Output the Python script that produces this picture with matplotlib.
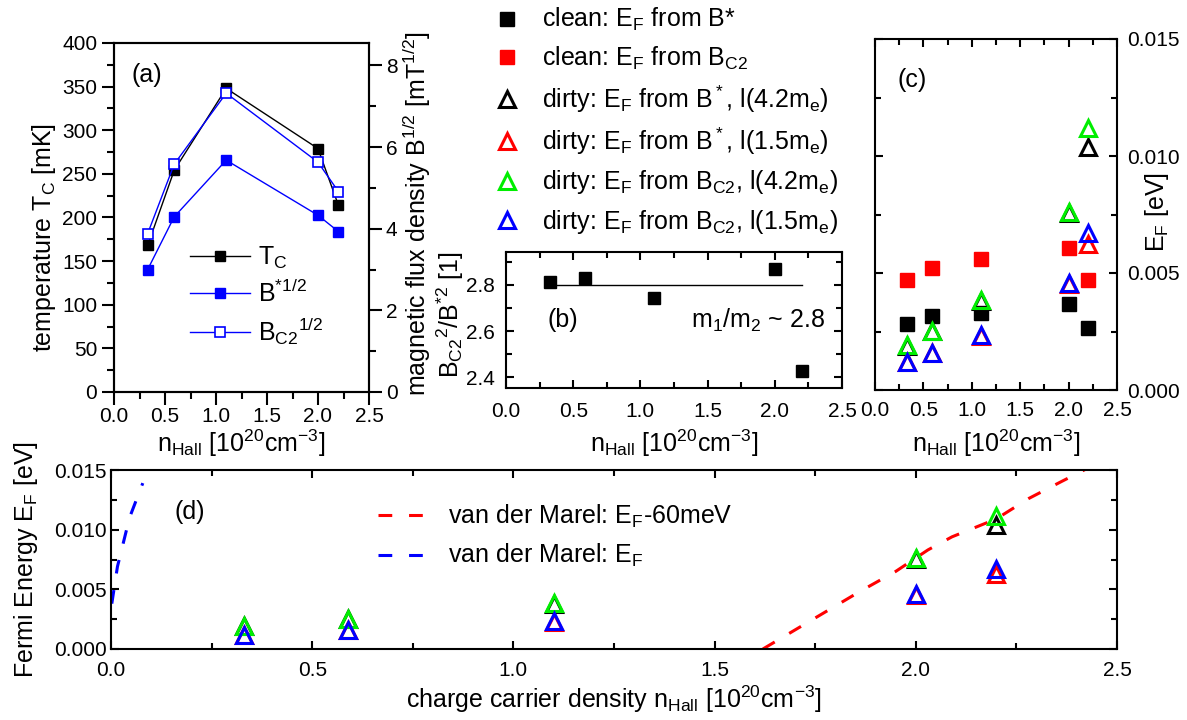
import matplotlib
matplotlib.use("Agg")
import matplotlib.pyplot as plt
from matplotlib.ticker import MultipleLocator, FormatStrFormatter

# ---- data -----------------------------------------------------------------
# Hall carrier density of the samples [10^20 cm^-3]
n_hall = [0.33, 0.59, 1.10, 2.00, 2.20]

# (a) critical temperature and square roots of the characteristic fields
tc_mK = [168, 254, 348, 279, 214]
b_star_sqrt = [3.00, 4.29, 5.68, 4.33, 3.93]
b_c2_sqrt = [3.88, 5.58, 7.32, 5.63, 4.91]

# (b) field ratio and the resulting mass ratio
ratio_bc2_bstar = [2.814, 2.829, 2.742, 2.868, 2.426]
mass_ratio = 2.8

# (c), (d) Fermi energies [eV]
ef_clean_bstar = [0.00284, 0.00315, 0.00330, 0.00369, 0.00263]
ef_clean_bc2 = [0.00472, 0.00521, 0.00561, 0.00608, 0.00472]
ef_dirty_bstar_42 = [0.00190, 0.00251, 0.00380, 0.00755, 0.01037]
ef_dirty_bstar_15 = [0.00118, 0.00156, 0.00230, 0.00455, 0.00625]
ef_dirty_bc2_42 = [0.00192, 0.00253, 0.00386, 0.00760, 0.01118]
ef_dirty_bc2_15 = [0.00118, 0.00156, 0.00234, 0.00459, 0.00673]

# van der Marel model curves
vdm_n = [0.002, 0.016, 0.046, 0.079]
vdm_ef = [0.0038, 0.0069, 0.0110, 0.0139]
vdm60_n = [1.62, 1.73, 1.86, 1.95, 2.03, 2.09, 2.20, 2.28, 2.36, 2.43]
vdm60_ef = [0.0000, 0.0022, 0.0048, 0.0065, 0.0083, 0.0094, 0.0109, 0.0126, 0.0140, 0.0152]

# ---- style ----------------------------------------------------------------
plt.rcParams.update({
    "font.family": ["Liberation Sans", "DejaVu Sans"],
    "mathtext.fontset": "custom",
    "mathtext.rm": "Liberation Sans",
    "mathtext.it": "Liberation Sans:italic",
    "mathtext.bf": "Liberation Sans:bold",
    "mathtext.default": "regular",
    "axes.linewidth": 1.5,
})

TICK_FS = 15
LABEL_FS = 18
BLUE = "#0000ff"
RED = "#ff0000"
GREEN = "#00ee00"

W, H = 1187, 720
fig = plt.figure(figsize=(W / 100, H / 100), dpi=100)


def box(left, top, right, bottom):
    return [left / W, 1 - bottom / H, (right - left) / W, (bottom - top) / H]


def inside_ticks(ax):
    ax.tick_params(which="both", direction="in", top=True, right=True,
                   width=1.5, labelsize=TICK_FS)
    ax.tick_params(which="major", length=6)
    ax.tick_params(which="minor", length=4)


def center_label(label):
    label.set_ha("center")
    label.set_va("center")
    label.set_fontsize(LABEL_FS)


nlabel = r"n$_\mathrm{Hall}$ [10$^{20}$cm$^{-3}$]"

# ---- (a) -------------------------------------------------------------------
ax_a = fig.add_axes(box(114, 43, 369, 392))
ax_a2 = ax_a.twinx()
l_tc, = ax_a.plot(n_hall, tc_mK, color="black", lw=1, marker="s", ms=7,
                  mfc="black", mec="black", label=r"T$_\mathrm{C}$")
l_bs, = ax_a2.plot(n_hall, b_star_sqrt, color=BLUE, lw=1, marker="s", ms=7,
                   mfc=BLUE, mec=BLUE, label=r"B$^{*1/2}$")
l_bc, = ax_a2.plot(n_hall, b_c2_sqrt, color=BLUE, lw=1, marker="s", ms=7,
                   mfc="white", mec=BLUE, mew=1.2,
                   label=r"B$_\mathrm{C2}$$^{1/2}$")
ax_a.set_xlim(0, 2.5)
ax_a.set_ylim(0, 400)
ax_a2.set_ylim(0, 8.55)
ax_a.xaxis.set_major_locator(MultipleLocator(0.5))
ax_a.xaxis.set_minor_locator(MultipleLocator(0.25))
ax_a.xaxis.set_major_formatter(FormatStrFormatter("%.1f"))
ax_a.yaxis.set_major_locator(MultipleLocator(50))
ax_a.yaxis.set_minor_locator(MultipleLocator(25))
ax_a2.yaxis.set_major_locator(MultipleLocator(2))
ax_a2.yaxis.set_minor_locator(MultipleLocator(1))
ax_a.tick_params(which="both", direction="out", top=False, right=False,
                 width=1.5, labelsize=TICK_FS, pad=3)
ax_a.tick_params(axis="x", pad=2)
ax_a.tick_params(which="major", length=9)
ax_a.tick_params(which="minor", length=5)
ax_a2.tick_params(which="both", direction="out", width=1.5,
                  labelsize=TICK_FS, pad=3)
ax_a2.tick_params(which="major", length=9)
ax_a2.tick_params(which="minor", length=5)
ax_a.set_xlabel(nlabel)
ax_a.set_ylabel(r"temperature T$_\mathrm{C}$ [mK]")
ax_a2.set_ylabel(r"magnetic flux density B$^{1/2}$ [mT$^{1/2}$]", rotation=90)
for lab in (ax_a.xaxis.label, ax_a.yaxis.label, ax_a2.yaxis.label):
    center_label(lab)
ax_a.xaxis.set_label_coords(0.5, (392 - 443) / 349)
ax_a.yaxis.set_label_coords(-0.2745, 0.444)
ax_a2.yaxis.set_label_coords(1.188, 0.51)
ax_a.text(0.129, 0.908, "(a)", transform=ax_a.transAxes, fontsize=LABEL_FS,
          ha="center", va="center")
ax_a2.legend([l_tc, l_bs, l_bc], [l.get_label() for l in (l_tc, l_bs, l_bc)],
             loc="center left", bbox_to_anchor=((190 - 114) / 255, (392 - 296) / 349),
             frameon=False, fontsize=LABEL_FS, handlelength=2.4,
             handletextpad=0.3, borderpad=0, borderaxespad=0,
             labelspacing=0.35, numpoints=1)

# ---- (b) -------------------------------------------------------------------
ax_b = fig.add_axes(box(506, 252, 842, 388))
ax_b.plot(n_hall, ratio_bc2_bstar, ls="none", marker="s", ms=8,
          color="black")
ax_b.plot([n_hall[0], n_hall[-1]], [mass_ratio, mass_ratio], color="black",
          lw=1)
ax_b.set_xlim(0, 2.5)
ax_b.set_ylim(2.353, 2.943)
ax_b.xaxis.set_major_locator(MultipleLocator(0.5))
ax_b.xaxis.set_minor_locator(MultipleLocator(0.25))
ax_b.xaxis.set_major_formatter(FormatStrFormatter("%.1f"))
ax_b.yaxis.set_major_locator(MultipleLocator(0.2))
ax_b.yaxis.set_minor_locator(MultipleLocator(0.1))
ax_b.yaxis.set_major_formatter(FormatStrFormatter("%.1f"))
inside_ticks(ax_b)
ax_b.tick_params(axis="x", pad=10)
ax_b.tick_params(axis="y", pad=8)
ax_b.set_xlabel(nlabel)
ax_b.set_ylabel(r"B$_\mathrm{C2}$$^2$/B$^{*2}$ [1]")
center_label(ax_b.xaxis.label)
center_label(ax_b.yaxis.label)
ax_b.xaxis.set_label_coords(0.5, (388 - 443) / 136)
ax_b.yaxis.set_label_coords(-0.1667, 0.537)
ax_b.text(0.17, 0.5, "(b)", transform=ax_b.transAxes, fontsize=LABEL_FS,
          ha="center", va="center")
ax_b.text(0.949, 0.5, r"m$_1$/m$_2$ ~ 2.8", transform=ax_b.transAxes,
          fontsize=LABEL_FS, ha="right", va="center")

# ---- (c) -------------------------------------------------------------------
series = [
    (ef_clean_bstar, "s", "black", True, r"clean: E$_\mathrm{F}$ from B*"),
    (ef_clean_bc2, "s", RED, True, r"clean: E$_\mathrm{F}$ from B$_\mathrm{C2}$"),
    (ef_dirty_bstar_42, "^", "black", False,
     r"dirty: E$_\mathrm{F}$ from B$^*$, l(4.2m$_\mathrm{e}$)"),
    (ef_dirty_bstar_15, "^", RED, False,
     r"dirty: E$_\mathrm{F}$ from B$^*$, l(1.5m$_\mathrm{e}$)"),
    (ef_dirty_bc2_42, "^", GREEN, False,
     r"dirty: E$_\mathrm{F}$ from B$_\mathrm{C2}$, l(4.2m$_\mathrm{e}$)"),
    (ef_dirty_bc2_15, "^", BLUE, False,
     r"dirty: E$_\mathrm{F}$ from B$_\mathrm{C2}$, l(1.5m$_\mathrm{e}$)"),
]

ax_c = fig.add_axes(box(875, 39, 1117, 390))
handles_c = []
for vals, mk, col, filled, lab in series:
    if filled:
        h, = ax_c.plot(n_hall, vals, ls="none", marker=mk, ms=10, mfc=col,
                       mec=col, label=lab)
    else:
        h, = ax_c.plot(n_hall, vals, ls="none", marker=mk, ms=12, mfc="none",
                       mec=col, mew=2.2, label=lab)
    handles_c.append(h)
ax_c.set_xlim(0, 2.5)
ax_c.set_ylim(0, 0.015)
ax_c.xaxis.set_major_locator(MultipleLocator(0.5))
ax_c.xaxis.set_minor_locator(MultipleLocator(0.25))
ax_c.xaxis.set_major_formatter(FormatStrFormatter("%.1f"))
ax_c.yaxis.set_major_locator(MultipleLocator(0.005))
ax_c.yaxis.set_minor_locator(MultipleLocator(0.0025))
ax_c.yaxis.set_major_formatter(FormatStrFormatter("%.3f"))
inside_ticks(ax_c)
ax_c.tick_params(labelleft=False, labelright=True)
ax_c.tick_params(axis="x", pad=8)
ax_c.tick_params(axis="y", pad=7)
ax_c.yaxis.set_label_position("right")
ax_c.set_xlabel(nlabel)
ax_c.set_ylabel(r"E$_\mathrm{F}$ [eV]")
center_label(ax_c.xaxis.label)
center_label(ax_c.yaxis.label)
ax_c.xaxis.set_label_coords(0.5, (390 - 443) / 351)
ax_c.yaxis.set_label_coords(1.165, 0.507)
ax_c.text(0.152, 0.883, "(c)", transform=ax_c.transAxes, fontsize=LABEL_FS,
          ha="center", va="center")

fig.legend(handles_c, [h.get_label() for h in handles_c], loc="center left",
           bbox_to_anchor=(488 / W, 1 - 121 / H), frameon=False,
           fontsize=LABEL_FS, handlelength=1.5, handletextpad=0.68,
           borderpad=0, borderaxespad=0, labelspacing=0.45, numpoints=1)

# ---- (d) -------------------------------------------------------------------
ax_d = fig.add_axes(box(111, 470, 1117, 649))
l_v60, = ax_d.plot(vdm60_n, vdm60_ef, color=RED, lw=2.2, dashes=(4.5, 5.5),
                   label=r"van der Marel: E$_\mathrm{F}$-60meV")
l_v, = ax_d.plot(vdm_n, vdm_ef, color=BLUE, lw=2.2, dashes=(4.5, 5.5),
                 label=r"van der Marel: E$_\mathrm{F}$")
for vals, mk, col, filled, lab in series[2:]:
    ax_d.plot(n_hall, vals, ls="none", marker=mk, ms=12, mfc="none",
              mec=col, mew=2.2)
ax_d.set_xlim(0, 2.5)
ax_d.set_ylim(0, 0.015)
ax_d.xaxis.set_major_locator(MultipleLocator(0.5))
ax_d.xaxis.set_minor_locator(MultipleLocator(0.25))
ax_d.xaxis.set_major_formatter(FormatStrFormatter("%.1f"))
ax_d.yaxis.set_major_locator(MultipleLocator(0.005))
ax_d.yaxis.set_minor_locator(MultipleLocator(0.0025))
ax_d.yaxis.set_major_formatter(FormatStrFormatter("%.3f"))
inside_ticks(ax_d)
ax_d.tick_params(axis="x", pad=9)
ax_d.tick_params(axis="y", pad=3)
ax_d.set_xlabel(r"charge carrier density n$_\mathrm{Hall}$ [10$^{20}$cm$^{-3}$]")
ax_d.set_ylabel(r"Fermi Energy E$_\mathrm{F}$ [eV]")
center_label(ax_d.xaxis.label)
center_label(ax_d.yaxis.label)
ax_d.xaxis.set_label_coords(0.5, (649 - 699) / 179)
ax_d.yaxis.set_label_coords(-0.0845, 0.5)
ax_d.text((190 - 111) / 1006, (649 - 512) / 179, "(d)", transform=ax_d.transAxes,
          fontsize=LABEL_FS, ha="center", va="center")
ax_d.legend([l_v60, l_v], [l_v60.get_label(), l_v.get_label()],
            loc="center left", bbox_to_anchor=((378 - 111) / 1006, (649 - 536) / 179),
            frameon=False, fontsize=LABEL_FS, handlelength=2.1,
            handletextpad=0.68, borderpad=0, borderaxespad=0,
            labelspacing=0.5)

fig.savefig("out.png", dpi=100)
